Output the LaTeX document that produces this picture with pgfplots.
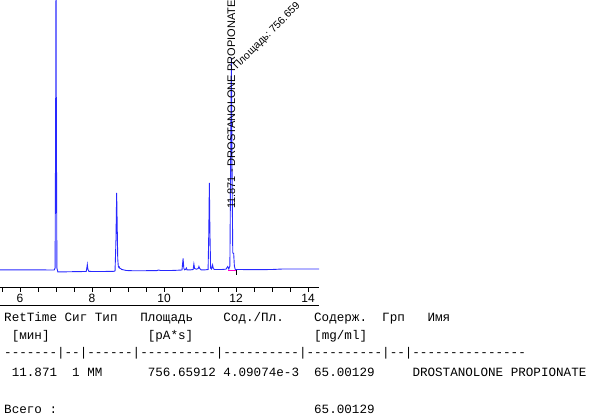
\documentclass[border=0pt]{standalone}
\usepackage{fontspec}
\setmainfont{Liberation Sans}
\setmonofont{Liberation Mono}
\usepackage{pgfplots}
\pgfplotsset{compat=1.18}
\definecolor{sig}{RGB}{40,40,255}
\definecolor{bline}{RGB}{255,0,200}
\frenchspacing
\begin{document}
\begin{tikzpicture}[x=1pt,y=1pt]
\useasboundingbox (0,0) rectangle (590,-417);
\begin{axis}[
    at={(0,0)}, anchor=north west,
    width=319pt, height=287pt, scale only axis,
    xmin=5.4444, xmax=14.3056,
    ymin=-16, ymax=271,
    axis x line=bottom, axis y line=none,
    axis line style={-, black, line width=0.8pt},
    xtick={5.5,6,6.5,7,7.5,8,8.5,9,9.5,10,10.5,11,11.5,12,12.5,13,13.5,14},
    xticklabels={,6,,,,8,,,,10,,,,12,,,,14},
    tick align=outside,
    major tick length=4.5pt,
    tick style={black, line width=0.8pt},
    xticklabel style={font=\fontsize{12}{13}\selectfont, inner sep=2.5pt},
]
% chromatogram trace (signal in screen units above the baseline)
\addplot[sig, line width=0.9pt] coordinates {
    (5.444,1.2) (6.0,1.2) (6.5,1.1) (6.95,1.0) (6.975,3) (6.99,150) (7.0,290)
    (7.01,150) (7.025,3) (7.05,-0.8) (7.3,-0.8) (7.6,-0.6) (7.84,-0.5)
    (7.86,4) (7.87,6.5) (7.885,2) (7.91,-0.3) (8.0,-0.5) (8.3,-0.5) (8.6,-0.3)
    (8.64,0) (8.665,30) (8.685,78) (8.70,45) (8.715,12) (8.73,5) (8.745,3.5)
    (8.76,4) (8.775,2.5) (8.8,2.5) (8.82,1.5) (8.87,1.2) (8.95,0.5) (9.1,0.3)
    (9.5,0.3) (9.8,0.4) (9.85,1.0) (9.9,0.5) (10.2,0.5) (10.4,0.8) (10.5,1.0)
    (10.53,12.5) (10.55,3) (10.57,1.2) (10.6,1.5) (10.62,3) (10.64,1.2)
    (10.75,1.2) (10.81,1.5) (10.83,7) (10.85,2.5) (10.9,1.8) (10.95,2.5)
    (10.97,4.5) (10.99,2.5) (11.03,1.2) (11.15,1.2) (11.225,1.5) (11.245,40)
    (11.26,88) (11.275,40) (11.295,3) (11.32,2) (11.35,6) (11.37,2.5) (11.4,1.5)
    (11.6,1.5) (11.72,1.8) (11.77,4.5) (11.8,2) (11.83,5) (11.85,100)
    (11.871,213) (11.89,100) (11.91,18) (11.935,17.7) (11.955,5) (11.98,1.5)
    (12.1,1.5) (12.5,1.3) (13.0,1.5) (13.3,2) (14.306,2)
};
% integration baseline and peak end marker
\addplot[bline, line width=0.9pt] coordinates {(11.79,0.3) (12.0,0.3)};
\addplot[black, line width=0.8pt] coordinates {(12.0,1) (12.0,-3.5)};
\end{axis}
\draw[line width=0.8pt] (0,-305) -- (319,-305);
\node[rotate=90, anchor=base west, inner sep=0, font=\fontsize{11}{12}\selectfont]
    at (235,-209) {11.871 - DROSTANOLONE PROPIONATE};
\node[rotate=45, anchor=base west, inner sep=0, font=\fontsize{10.5}{12}\selectfont]
    at (237,-70) {Площадь: 756.659};
\begin{scope}[every node/.style={anchor=base west, inner sep=0,
    font=\fontsize{12.6}{15}\selectfont\ttfamily}]
\node at (4,-321.5) {RetTime~Сиг~Тип~~~Площадь~~~~Сод./Пл.~~~~Содерж.~~Грп~~~Имя};
\node at (4,-340) {~[мин]~~~~~~~~~~~~~[pA*s]~~~~~~~~~~~~~~~~[mg/ml]};
\node at (4,-356) {-------|--|------|----------|----------|----------|--|---------------};
\node at (4,-376.5) {~11.871~~1~MM~~~~~~756.65912~4.09074e-3~~65.00129~~~~~DROSTANOLONE~PROPIONATE};
\node at (4,-413.5) {Всего~:};
\node at (313.96,-413.5) {65.00129};
\end{scope}
\end{tikzpicture}
\end{document}
